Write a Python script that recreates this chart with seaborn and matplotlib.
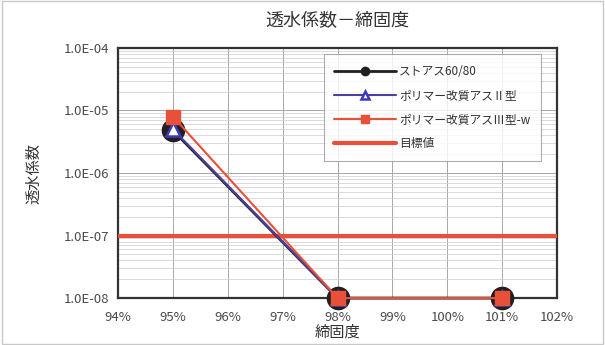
import math
import matplotlib
matplotlib.use("Agg")
import matplotlib.pyplot as plt
import matplotlib.ticker as mticker
import seaborn as sns
import pandas as pd

sns.set_theme(style="white")
plt.rcParams['font.family'] = ['Noto Sans CJK JP', 'DejaVu Sans']

# 締固度 (%) and 透水係数 for each binder
compaction = [95, 98, 101]
straight_asphalt = [4.8e-6, 1.0e-8, 1.0e-8]
polymer_type2 = [5.0e-6, 1.0e-8, 1.0e-8]
polymer_type3w = [8.0e-6, 1.0e-8, 1.0e-8]
target_value = 1.0e-7

series_names = ["ストアス60/80", "ポリマー改質アスⅡ型", "ポリマー改質アスⅢ型-w"]
target_name = "目標値"
x_ticks = [94, 95, 96, 97, 98, 99, 100, 101, 102]
y_ticks = [1e-8, 1e-7, 1e-6, 1e-5, 1e-4]

df = pd.DataFrame({
    "締固度": compaction * 3,
    "透水係数": straight_asphalt + polymer_type2 + polymer_type3w,
    "series": [series_names[0]] * 3 + [series_names[1]] * 3 + [series_names[2]] * 3,
})

fig = plt.figure(figsize=(6.05, 3.45), dpi=100)
fig.patch.set_facecolor("white")
ax = fig.add_axes([0.195, 0.136, 0.726, 0.725])

styles = {
    series_names[0]: dict(color="#231f20", marker="o", markersize=16,
                          markerfacecolor="#231f20", markeredgecolor="#231f20",
                          markeredgewidth=1.0, lw=2.0, legend_ms=6),
    series_names[1]: dict(color="#4b3fa0", marker="^", markersize=10,
                          markerfacecolor="white", markeredgecolor="#3a3ac0",
                          markeredgewidth=1.8, lw=1.5, legend_ms=6),
    series_names[2]: dict(color="#e8503a", marker="s", markersize=10,
                          markerfacecolor="#e8503a", markeredgecolor="#e8503a",
                          markeredgewidth=1.0, lw=1.5, legend_ms=6),
}

for name in series_names:
    sub = df[df["series"] == name]
    st = styles[name]
    sns.lineplot(data=sub, x="締固度", y="透水係数", ax=ax, color=st["color"],
                 marker=st["marker"], markersize=st["markersize"],
                 markerfacecolor=st["markerfacecolor"],
                 markeredgecolor=st["markeredgecolor"],
                 markeredgewidth=st["markeredgewidth"],
                 linewidth=st["lw"], label=name, zorder=4, clip_on=False)

ax.axhline(target_value, color="#e8503a", lw=3, label=target_name, zorder=3)

ax.set_yscale("log")
ax.set_xlim(94, 102)
ax.set_ylim(1e-8, 1e-4)
ax.set_xticks(x_ticks)
ax.xaxis.set_major_formatter(mticker.FuncFormatter(lambda v, p: f"{v:.0f}%"))
ax.yaxis.set_major_locator(mticker.FixedLocator(y_ticks))
ax.yaxis.set_major_formatter(mticker.FuncFormatter(
    lambda v, p: "1.0E-{:02d}".format(int(round(-math.log10(v))))))
ax.yaxis.set_minor_locator(mticker.LogLocator(base=10, subs=range(2, 10), numticks=20))
ax.yaxis.set_minor_formatter(mticker.NullFormatter())

ax.grid(True, which="major", axis="both", color="#a8a8a8", lw=0.7)
ax.grid(True, which="minor", axis="y", color="#cccccc", lw=0.5)
ax.set_axisbelow(True)
for s in ax.spines.values():
    s.set_color("#333333")
    s.set_linewidth(1.6)
    s.set_zorder(2.5)

ax.tick_params(axis="x", which="major", length=0, labelsize=9.5,
               colors="#4a4a4a", pad=9)
ax.tick_params(axis="y", which="major", length=0, labelsize=9.5,
               colors="#4a4a4a", pad=6)
ax.tick_params(axis="both", which="minor", length=0)

ax.set_xlabel("締固度", fontsize=11, color="#333333", labelpad=0)
ax.set_ylabel("透水係数", fontsize=11, color="#333333", labelpad=16)
ax.set_title("透水係数－締固度", fontsize=13, color="#333333", pad=16)

leg = ax.legend(loc="upper right", bbox_to_anchor=(0.963, 0.975), fontsize=8.5,
                frameon=True, fancybox=False, edgecolor="#999999",
                handlelength=5.2, borderpad=0.9, labelspacing=0.95,
                handletextpad=0.3, borderaxespad=0)
leg.get_frame().set_linewidth(0.8)
for t in leg.get_texts():
    t.set_color("#333333")
for h, name in zip(leg.legend_handles, series_names):
    h.set_markersize(styles[name]["legend_ms"])

# outer chart border
fig.add_artist(plt.Rectangle((0.003, 0.003), 0.994, 0.994, transform=fig.transFigure,
                             fill=False, edgecolor="#c8c8c8", lw=1))

fig.savefig("out.png", dpi=100, facecolor="white")
